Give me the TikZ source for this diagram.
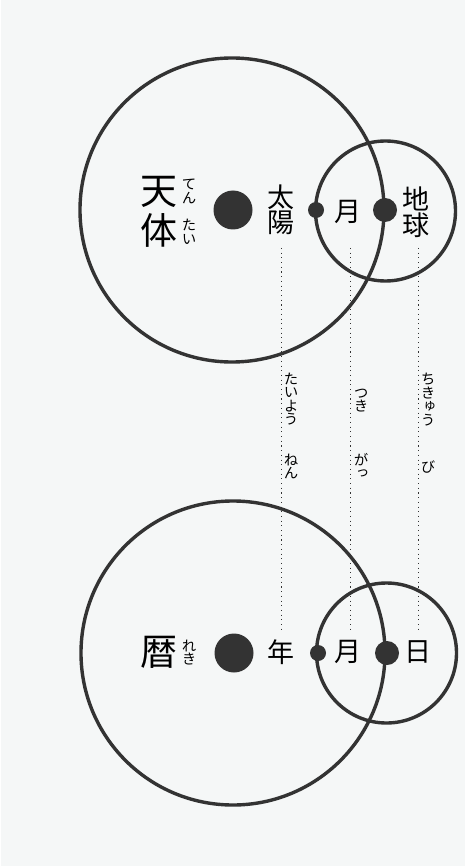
\documentclass[tikz,border=0pt]{standalone}
\usepackage{fontspec}
\newfontfamily\jp{Noto Sans CJK JP}
\newfontfamily\jpv[RawFeature=+vert]{Noto Sans CJK JP}
\definecolor{bg}{HTML}{F5F7F7}
\definecolor{ink}{HTML}{333333}
\begin{document}
\begin{tikzpicture}[x=1pt,y=-1pt,
  ring/.style={draw=ink, line width=3.4pt},
  bigdot/.style={circle, fill=ink, inner sep=0, minimum size=39pt},
  middot/.style={circle, fill=ink, inner sep=0, minimum size=24pt},
  smalldot/.style={circle, fill=ink, inner sep=0, minimum size=16pt},
  title/.style={inner sep=0, align=center, text=black, font=\jp\fontsize{37}{40}\selectfont},
  word/.style={inner sep=0, align=center, text=black, font=\jp\fontsize{27}{25.5}\selectfont},
  ruby/.style={inner sep=0, align=center, text=black, font=\jpv\fontsize{14.5}{13.5}\selectfont},
  dotline/.style={draw=ink, line width=0.9pt, dash pattern=on 1.1pt off 3.6pt}]
\fill[bg] (0,0) rectangle (465,866);
\fill[white] (0,0) rectangle (1.2,866);
\useasboundingbox (0,0) rectangle (465,866);

% top group
\coordinate (TC) at (232,210);
\coordinate (TS) at (385.5,211);
\draw[ring] (TC) circle[radius=152pt];
\draw[ring] (TS) circle[radius=70pt];
\node[bigdot] (tsun) at (233,210) {};
\node[middot] (tearth) at (385,210) {};
\node[smalldot] (tmoon) at (316,210) {};
\node[title] (tentai) at (159,212) {天\\体};
\node[ruby] (rten) at (189,191.5) {て\\ん};
\node[ruby] (rtai) at (189,232) {た\\い};
\node[word] (taiyo) at (281,210) {太\\陽};
\node[word] (tsuki) at (348,212) {月};
\node[word] (chikyu) at (416,212) {地\\球};

% bottom group
\coordinate (BC) at (233,653);
\coordinate (BS) at (386.5,653);
\draw[ring] (BC) circle[radius=152pt];
\draw[ring] (BS) circle[radius=70pt];
\node[bigdot] (bsun) at (234,653) {};
\node[middot] (bearth) at (387,653) {};
\node[smalldot] (bmoon) at (318,653) {};
\node[title] (reki) at (159,652) {暦};
\node[ruby] (rreki) at (189,652.5) {れ\\き};
\node[word] (nen) at (281,652) {年};
\node[word] (getsu) at (348,652) {月};
\node[word] (nichi) at (418,652) {日};

% dotted connectors
\coordinate (a1) at (281.5,248); \coordinate (a2) at (281.5,630);
\coordinate (b1) at (350,248);   \coordinate (b2) at (350,630);
\coordinate (c1) at (418,248);   \coordinate (c2) at (418,630);
\draw[dotline] (a1) -- (a2);
\draw[dotline] (b1) -- (b2);
\draw[dotline] (c1) -- (c2);

% readings
\node[ruby] (taiyou) at (291,399) {た\\い\\よ\\う};
\node[ruby] (nenr) at (291,466.5) {ね\\ん};
\node[ruby] (tsukir) at (361,400.5) {つ\\き};
\node[ruby] (gatsu) at (361,466) {が\\っ};
\node[ruby] (chikyur) at (428,399.5) {ち\\き\\ゅ\\う};
\node[ruby] (bi) at (428,466.5) {び};
\end{tikzpicture}
\end{document}
